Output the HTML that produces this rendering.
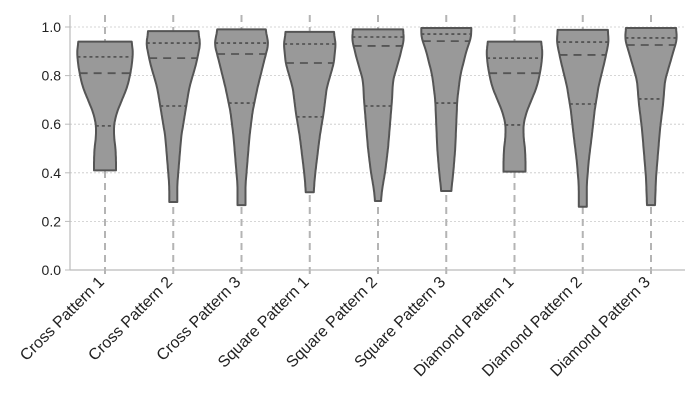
<!DOCTYPE html>
<html><head><meta charset="utf-8"><style>
body{margin:0;background:#fff}
svg{font-family:"Liberation Sans",sans-serif}
</style></head><body>
<svg id="chart" width="700" height="400"></svg>
<script>
const categories=["Cross Pattern 1","Cross Pattern 2","Cross Pattern 3","Square Pattern 1","Square Pattern 2","Square Pattern 3","Diamond Pattern 1","Diamond Pattern 2","Diamond Pattern 3"];
const q1s=[0.593,0.675,0.687,0.63,0.675,0.687,0.597,0.683,0.704];
const medians=[0.81,0.872,0.889,0.852,0.922,0.942,0.81,0.885,0.926];
const q3s=[0.877,0.934,0.934,0.93,0.959,0.971,0.872,0.938,0.955];
const densityLevels=[
[0.94,0.9,0.85,0.8,0.75,0.7,0.65,0.6,0.55,0.5,0.45,0.41],
[0.983,0.93,0.85,0.75,0.65,0.55,0.45,0.35,0.28],
[0.99,0.93,0.85,0.75,0.65,0.55,0.45,0.35,0.267],
[0.98,0.93,0.85,0.75,0.65,0.55,0.45,0.38,0.32],
[0.99,0.95,0.88,0.78,0.70,0.6,0.5,0.4,0.33,0.284],
[0.996,0.96,0.9,0.8,0.7,0.6,0.5,0.4,0.325],
[0.94,0.9,0.85,0.8,0.75,0.7,0.65,0.6,0.55,0.5,0.45,0.405],
[0.988,0.94,0.86,0.76,0.66,0.55,0.45,0.35,0.26],
[0.996,0.95,0.88,0.78,0.68,0.58,0.48,0.38,0.267]];
const densityWidths=[
[26.5,28,27,25,22,17,12,9,9,10.5,11,11],
[25,27,23,16,12,8,6,4,4],
[24,27,22,16,11,8,6,4,4],
[24,26,24,17,14,10,7,5,4],
[25,26,22,15,14,12,10,7,4,3],
[25,25,20,14,11,10,9,7,5],
[26.5,28,27,25,22,17,12,9,9,10.5,11,11],
[25,26,22,16,12,9,6,4,4],
[25,26,21,14,12,9,7,5,4]];
const yTicks=[0,0.2,0.4,0.6,0.8,1.0];

const NS="http://www.w3.org/2000/svg";
const svg=document.getElementById('chart');
const L=70,R=685,T=15,B=270;
const y=v=>B-v*243;
const x=i=>105+i*68.25;
function mk(t,a,p){const e=document.createElementNS(NS,t);for(const k in a)e.setAttribute(k,a[k]);(p||svg).appendChild(e);return e;}
yTicks.forEach(v=>{if(v>0){const g=mk('line',{x1:L,x2:R,y1:y(v),y2:y(v),stroke:'#c8c8c8','stroke-width':0.8,'stroke-dasharray':'2,2'});

}
const tk=mk('line',{x1:L-5,x2:L,y1:y(v),y2:y(v),stroke:'#bbb','stroke-width':1});


const t=mk('text',{x:L-9,y:y(v)+5,'text-anchor':'end','font-size':14,fill:'#222'});t.textContent=v.toFixed(1);

});
categories.forEach((c,i)=>{const l=mk('line',{x1:x(i),x2:x(i),y1:T,y2:B+6,stroke:'#b4b4b4','stroke-width':2,'stroke-dasharray':'7,5'});

});
function widthAt(i,v){const lv=densityLevels[i],w=densityWidths[i];for(let k=0;k<lv.length-1;k++){if(v<=lv[k]&&v>=lv[k+1]){const f=(lv[k]-v)/(lv[k]-lv[k+1]);return w[k]+(w[k+1]-w[k])*f;}}return w[w.length-1];}
function smoothW(i,v){const lv=densityLevels[i];const top=lv[0],bot=lv[lv.length-1];let s=0,n=0;for(let d=-0.02;d<=0.0201;d+=0.005){const vv=Math.min(top,Math.max(bot,v+d));s+=widthAt(i,vv);n++;}return s/n;}
categories.forEach((c,i)=>{
 const lv=densityLevels[i];const top=lv[0],bot=lv[lv.length-1];const N=80;let right=[],left=[];
 for(let k=0;k<=N;k++){const v=top-(top-bot)*k/N;const w=smoothW(i,v);right.push([x(i)+w,y(v)]);left.push([x(i)-w,y(v)]);}
 const pts=right.concat(left.reverse());
 const p=mk('path',{d:'M'+pts.map(p=>p[0].toFixed(1)+','+p[1].toFixed(1)).join('L')+'Z',fill:'#999',stroke:'#555','stroke-width':2,'stroke-linejoin':'round'});
 
 
 [[q1s[i],'3,3'],[medians[i],'8,6'],[q3s[i],'3,3']].forEach(([v,d],j)=>{const w=smoothW(i,v);
  const q=mk('line',{x1:x(i)-w,x2:x(i)+w,y1:y(v),y2:y(v),stroke:'#555','stroke-width':1.8,'stroke-dasharray':d});
  
  });
 const t=mk('text',{transform:`translate(${x(i)},${B+13}) rotate(-45)`,'text-anchor':'end','font-size':16,fill:'#222'});t.textContent=c;
 
 
});
const ax=mk('line',{x1:L,x2:L,y1:T,y2:B,stroke:'#bbb','stroke-width':1.2});


const bx=mk('line',{x1:L,x2:R,y1:B,y2:B,stroke:'#bbb','stroke-width':1.2});


</script>
</body></html>
